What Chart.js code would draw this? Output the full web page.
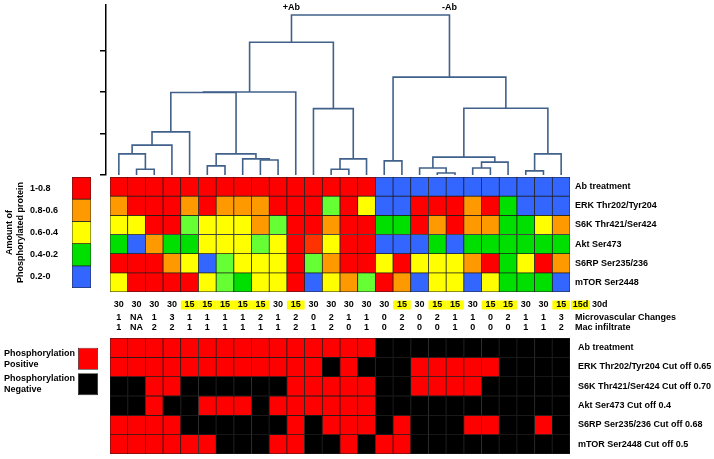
<!DOCTYPE html>
<html>
<head>
<meta charset="utf-8">
<script src="https://cdn.jsdelivr.net/npm/chart.js@4.4.1/dist/chart.umd.min.js"></script>
<style>
  html, body { margin: 0; padding: 0; background: #fff; }
  #wrap { position: relative; width: 714px; height: 459px; overflow: hidden; }
  #wrap canvas { position: absolute; }
</style>
</head>
<body>
<div id="wrap">
  <canvas id="dendro" width="714" height="180" style="left:0;top:0"></canvas>
  <canvas id="heat" width="714" height="165" style="left:0;top:170px"></canvas>
  <canvas id="scaleKey" width="100" height="125" style="left:0;top:170px"></canvas>
  <canvas id="binary" width="714" height="124" style="left:0;top:335px"></canvas>
  <canvas id="binKey" width="105" height="60" style="left:0;top:340px"></canvas>
</div>
<script>
const FONT = '"Liberation Sans", Arial, sans-serif';

// row labels
const rowNames = ['Ab treatment', 'ERK Thr202/Tyr204', 'S6K Thr421/Ser424', 'Akt Ser473', 'S6RP Ser235/236', 'mTOR Ser2448'];
const cutoffNames = ['Ab treatment', 'ERK Thr202/Tyr204 Cut off 0.65', 'S6K Thr421/Ser424 Cut off 0.70',
    'Akt Ser473 Cut off 0.4', 'S6RP Ser235/236 Cut off 0.68', 'mTOR Ser2448 Cut off 0.5'];

// amount of phosphorylated protein, one letter per sample
// R 1-0.8, X ~0.8, O 0.8-0.6, Y 0.6-0.4, L ~0.4, G 0.4-0.2, B 0.2-0
const abLevel   = 'RRRRRRRRRRRRRRRBBBBBBBBBBB'.split('');
const erkLevel  = 'ORRROROOORRRLRYBBRRRORGBBB'.split('');
const s6kLevel  = 'YYRRLYYYOLRRORRGGROROOGGYO'.split('');
const aktLevel  = 'GBOGGYYYLYRXYRRBBBGBGGGGGG'.split('');
const s6rpLevel = 'RRROYBLYYYRLORRYRYYYORGYRO'.split('');
const mtorLevel = 'YRRRRYLGYYRBYOLROBYYBYGGGB'.split('');
const levelRows = [abLevel, erkLevel, s6kLevel, aktLevel, s6rpLevel, mtorLevel];

// phosphorylation positive (1) / negative (0) after cut off
const abPos   = '11111111111111100000000000'.split('').map(Number);
const erkPos  = '11111111111101000111110000'.split('').map(Number);
const s6kPos  = '00110000001111100111100000'.split('').map(Number);
const aktPos  = '00100111011111100000000000'.split('').map(Number);
const s6rpPos = '11110000001011101000110010'.split('').map(Number);
const mtorPos = '11111100011001011000000000'.split('').map(Number);
const posRows = [abPos, erkPos, s6kPos, aktPos, s6rpPos, mtorPos];

// sample annotations
const days  = [30, 30, 30, 30, 15, 15, 15, 15, 15, 30, 15, 30, 30, 30, 30, 30, 15, 30, 15, 15, 30, 15, 15, 30, 30, 15];
const micro = ['1', 'NA', '1', '3', '1', '1', '1', '1', '2', '1', '2', '0', '2', '1', '1', '0', '2', '0', '2', '1', '1', '0', '2', '1', '1', '3'];
const mac   = ['1', 'NA', '2', '2', '1', '1', '1', '1', '1', '1', '2', '1', '2', '0', '1', '0', '2', '0', '0', '1', '0', '0', '0', '1', '1', '2'];

// hierarchical clustering: [left, right, height]; numbers are samples, 'mN' are earlier merges
const merges = [
    [2, 3, 0.14], [1, 'm0', 0.51], ['m1', 4, 0.72], ['m2', 5, 1.04],
    [6, 7, 0.22], [9, 10, 0.36], [8, 'm5', 0.39], ['m4', 'm6', 0.51],
    ['m3', 'm7', 1.99], ['m8', 11, 2.0],
    [13, 14, 0.14], ['m10', 15, 0.39], [12, 'm11', 1.6],
    ['m9', 'm12', 3.2],
    [16, 17, 0.34], [19, 20, 0.05], [18, 'm15', 0.17], [21, 22, 0.17], ['m17', 23, 0.31],
    ['m16', 'm18', 0.43], [24, 25, 0.1], ['m20', 26, 0.51], ['m19', 'm21', 1.61],
    ['m14', 'm22', 2.36],
    ['m13', 'm23', 3.86]
];
const groupLabels = [['m13', '+Ab'], ['m23', '-Ab']];

const levelNames = ['1-0.8', '0.8-0.6', '0.6-0.4', '0.4-0.2', '0.2-0'];
const levelColors = { R: '#ff0000', X: '#ff3300', O: '#ff9900', Y: '#ffff00', L: '#66ff33', G: '#00e000', B: '#3366ff' };
const keyLevels = ['R', 'O', 'Y', 'G', 'B'];

Chart.defaults.font.family = FONT;
Chart.defaults.font.size = 9;
Chart.defaults.font.weight = 'bold';
Chart.defaults.color = '#000';
Chart.defaults.animation = false;
Chart.defaults.responsive = false;
Chart.defaults.plugins.legend.display = false;
Chart.defaults.plugins.tooltip.enabled = false;

const samples = days.map((d, i) => i + 1);

// fixed axis width, no extra padding for the outer labels
const fixWidth = w => s => { s.width = w; s.paddingTop = 0; s.paddingBottom = 0; };

// ---- dendrogram ----
const nodeX = [], nodeH = [];
function node(ref) {
    if (typeof ref === 'number') return [ref, 0];
    const k = Number(ref.slice(1));
    return [nodeX[k], nodeH[k]];
}
const dendroSets = merges.map(([a, b, h], i) => {
    const [xa, ha] = node(a), [xb, hb] = node(b);
    nodeX[i] = (xa + xb) / 2;
    nodeH[i] = h;
    return {
        data: [{ x: xa, y: ha }, { x: xa, y: h }, { x: xb, y: h }, { x: xb, y: hb }],
        showLine: true, borderColor: '#41618a', borderWidth: 1.6, pointRadius: 0, tension: 0
    };
});

const groupText = {
    id: 'groupText',
    afterDraw(chart) {
        const { ctx, scales: { x, y } } = chart;
        const rootH = merges[merges.length - 1][2];
        ctx.save();
        ctx.font = 'bold 9px ' + FONT;
        ctx.fillStyle = '#000';
        ctx.textAlign = 'center';
        groupLabels.forEach(([ref, txt]) => {
            ctx.fillText(txt, x.getPixelForValue(node(ref)[0]), y.getPixelForValue(rootH) - 5);
        });
        ctx.restore();
    }
};

new Chart(document.getElementById('dendro'), {
    type: 'scatter',
    data: { datasets: dendroSets },
    options: {
        layout: { padding: { left: 0, right: 144, top: 5, bottom: 5 } },
        scales: {
            x: { type: 'linear', min: 0.274, max: 26.5, display: false },
            y: {
                min: 0, max: 4.1,
                ticks: { display: false, stepSize: 1 },
                afterBuildTicks: s => { s.ticks = s.ticks.filter(t => Number.isInteger(t.value)); },
                afterFit: fixWidth(106),
                grid: { drawOnChartArea: false, drawTicks: true, tickLength: 6, color: '#000', lineWidth: 1.5 },
                border: { color: '#000', width: 1.5 }
            }
        }
    },
    plugins: [groupText]
});

// ---- colour heatmap ----
const sampleRows = {
    id: 'sampleRows',
    afterDraw(chart) {
        const { ctx, chartArea, scales: { x } } = chart;
        const w = x.getPixelForValue(1) - x.getPixelForValue(0);
        const y0 = chartArea.bottom + 13;
        ctx.save();
        ctx.font = 'bold 9px ' + FONT;
        ctx.textBaseline = 'middle';
        ctx.textAlign = 'center';
        days.forEach((d, i) => {
            const cx = x.getPixelForValue(i);
            if (d === 15) {
                ctx.fillStyle = '#ffff00';
                ctx.fillRect(cx - w / 2, y0 - 4.5, w, 9);
            }
            ctx.fillStyle = '#000';
            ctx.fillText(String(d), cx, y0);
            ctx.fillText(micro[i], cx, y0 + 12.5);
            ctx.fillText(mac[i], cx, y0 + 22.5);
        });
        const r = chartArea.right;
        ctx.fillStyle = '#ffff00';
        ctx.fillRect(r + 1, y0 - 4.5, 19, 9);
        ctx.fillStyle = '#000';
        ctx.fillText('15d', r + 10.5, y0);
        ctx.textAlign = 'left';
        ctx.fillText('30d', r + 22, y0);
        ctx.fillText('Microvascular Changes', r + 5, y0 + 12.5);
        ctx.fillText('Mac infiltrate', r + 5, y0 + 22.5);
        ctx.restore();
    }
};

function gridOptions(names, pad, bottom, top) {
    return {
        layout: { padding: { left: 110, right: 0, top: top, bottom: bottom } },
        datasets: { bar: { barPercentage: 1, categoryPercentage: 1 } },
        scales: {
            x: { stacked: true, display: false },
            y: {
                stacked: true, position: 'right', reverse: true, min: 0, max: 6,
                ticks: {
                    stepSize: 0.5, autoSkip: false, padding: pad,
                    callback: v => (v % 1 === 0.5 ? names[Math.floor(v)] : '')
                },
                afterFit: fixWidth(144),
                grid: { display: false, drawTicks: false },
                border: { display: false }
            }
        }
    };
}

new Chart(document.getElementById('heat'), {
    type: 'bar',
    data: {
        labels: samples,
        datasets: levelRows.map((row, r) => ({
            label: rowNames[r],
            data: row.map(() => 1),
            backgroundColor: row.map(k => levelColors[k]),
            borderColor: '#1e1e1e', borderWidth: 0.75, borderSkipped: false
        }))
    },
    options: gridOptions(rowNames, 5, 43, 7),
    plugins: [sampleRows]
});

// ---- colour key ----
new Chart(document.getElementById('scaleKey'), {
    type: 'bar',
    data: {
        labels: ['key'],
        datasets: keyLevels.map((k, i) => ({
            label: levelNames[i], data: [1], yAxisID: 'y',
            backgroundColor: levelColors[k], borderColor: '#1e1e1e', borderWidth: 0.75, borderSkipped: false
        }))
    },
    options: {
        layout: { padding: { left: 0, right: 9, top: 7, bottom: 7 } },
        datasets: { bar: { barPercentage: 1, categoryPercentage: 1 } },
        scales: {
            x: { stacked: true, display: false },
            y: {
                stacked: true, position: 'left', reverse: true, min: 0, max: 5, weight: 0,
                ticks: {
                    stepSize: 0.5, autoSkip: false, crossAlign: 'far', padding: 0,
                    callback: v => (v % 1 === 0.5 ? levelNames[Math.floor(v)] : '')
                },
                afterFit: fixWidth(42),
                grid: { display: false, drawTicks: false },
                border: { display: false }
            },
            yt: {
                position: 'left', min: 0, max: 1, weight: 1,
                ticks: { display: false },
                afterFit: fixWidth(30),
                grid: { display: false, drawTicks: false },
                border: { display: false },
                title: {
                    display: true, text: ['Amount of', 'Phosphorylated protein'],
                    font: { size: 9, weight: 'bold' }, padding: { top: 4, bottom: 0 }
                }
            }
        }
    }
});

// ---- positive / negative grid ----
new Chart(document.getElementById('binary'), {
    type: 'bar',
    data: {
        labels: samples,
        datasets: posRows.map((row, r) => ({
            label: cutoffNames[r],
            data: row.map(() => 1),
            backgroundColor: row.map(p => (p ? '#ff0000' : '#000000')),
            borderColor: '#1e1e1e', borderWidth: 0.75, borderSkipped: false
        }))
    },
    options: gridOptions(cutoffNames, 8, 5, 3)
});

// ---- positive / negative key ----
new Chart(document.getElementById('binKey'), {
    type: 'bar',
    data: {
        labels: [['Phosphorylation', 'Positive'], ['Phosphorylation', 'Negative']],
        datasets: [{
            data: [1, 1], backgroundColor: ['#ff0000', '#000000'],
            borderColor: '#1e1e1e', borderWidth: 0.75, borderSkipped: false
        }]
    },
    options: {
        indexAxis: 'y',
        layout: { padding: { left: 4, right: 7, top: 6, bottom: 3 } },
        datasets: { bar: { barPercentage: 1, categoryPercentage: 0.86 } },
        scales: {
            x: { min: 0, max: 1, display: false },
            y: {
                ticks: { crossAlign: 'far', padding: 0, font: { size: 9, weight: 'bold', lineHeight: 1.25 } },
                afterFit: fixWidth(74),
                grid: { display: false, drawTicks: false },
                border: { display: false }
            }
        }
    }
});
</script>
</body>
</html>
